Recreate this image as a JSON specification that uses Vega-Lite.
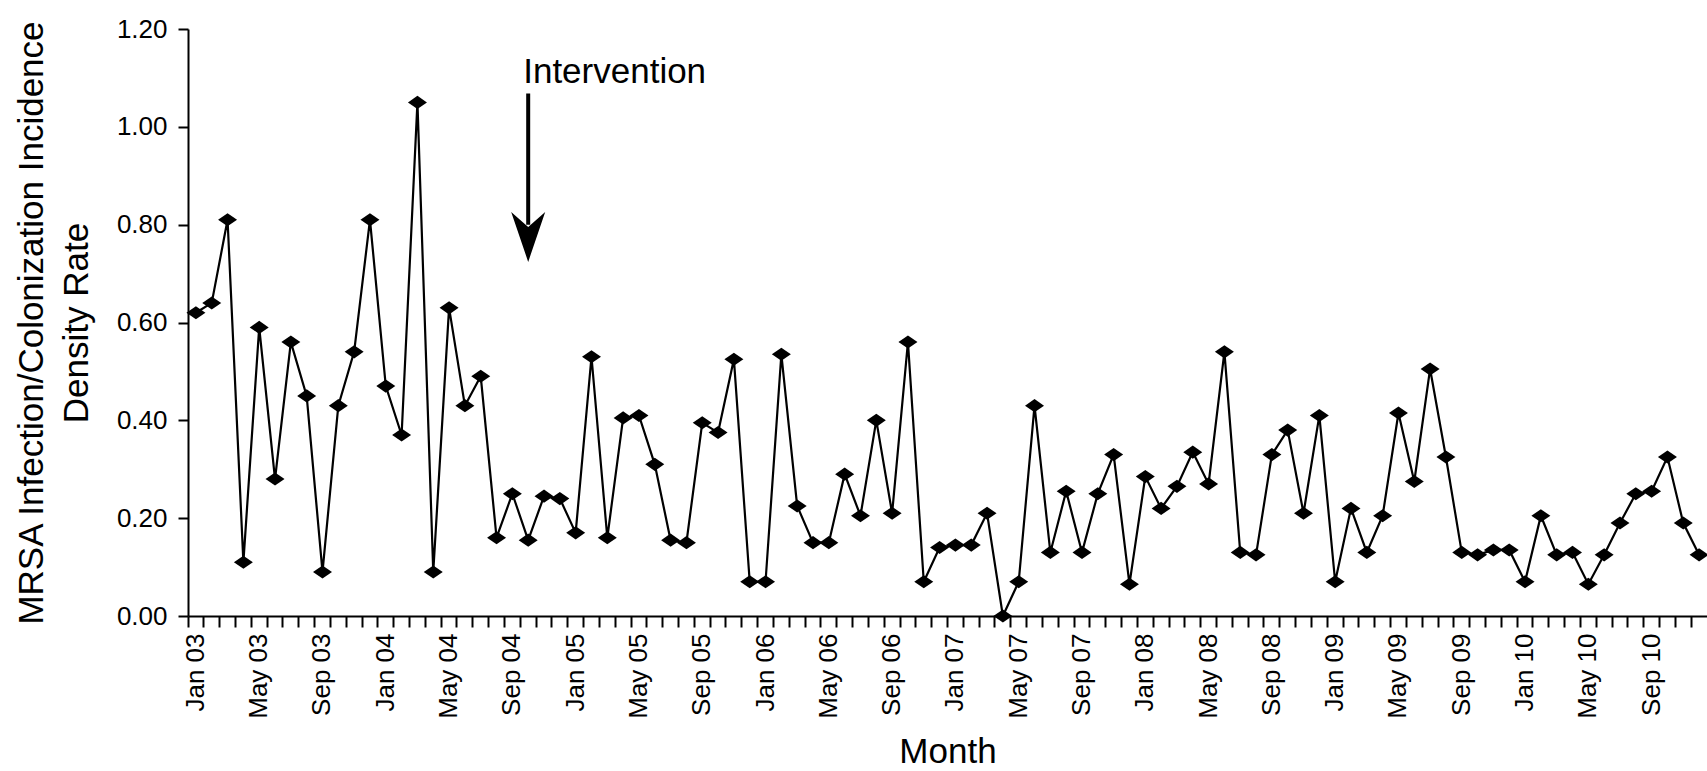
{
  "$schema": "https://vega.github.io/schema/vega-lite/v6.json",
  "autosize": {"type": "none"},
  "padding": {"left": 188, "top": 29, "right": 0, "bottom": 155},
  "width": 1519,
  "height": 587,
  "background": "white",
  "config": {
    "view": {"stroke": null},
    "font": "Liberation Sans",
    "axis": {
      "labelFont": "Liberation Sans",
      "titleFont": "Liberation Sans",
      "labelColor": "black",
      "titleColor": "black",
      "domainColor": "black",
      "tickColor": "black",
      "domainWidth": 2,
      "tickWidth": 2,
      "grid": false,
      "titleFontWeight": "normal"
    }
  },
  "datasets": {
    "rates": [
      {"month": "Jan 03", "rate": 0.62}, {"month": "Feb 03", "rate": 0.64}, {"month": "Mar 03", "rate": 0.81}, {"month": "Apr 03", "rate": 0.11},
      {"month": "May 03", "rate": 0.59}, {"month": "Jun 03", "rate": 0.28}, {"month": "Jul 03", "rate": 0.56}, {"month": "Aug 03", "rate": 0.45},
      {"month": "Sep 03", "rate": 0.09}, {"month": "Oct 03", "rate": 0.43}, {"month": "Nov 03", "rate": 0.54}, {"month": "Dec 03", "rate": 0.81},
      {"month": "Jan 04", "rate": 0.47}, {"month": "Feb 04", "rate": 0.37}, {"month": "Mar 04", "rate": 1.05}, {"month": "Apr 04", "rate": 0.09},
      {"month": "May 04", "rate": 0.63}, {"month": "Jun 04", "rate": 0.43}, {"month": "Jul 04", "rate": 0.49}, {"month": "Aug 04", "rate": 0.16},
      {"month": "Sep 04", "rate": 0.25}, {"month": "Oct 04", "rate": 0.155}, {"month": "Nov 04", "rate": 0.245}, {"month": "Dec 04", "rate": 0.24},
      {"month": "Jan 05", "rate": 0.17}, {"month": "Feb 05", "rate": 0.53}, {"month": "Mar 05", "rate": 0.16}, {"month": "Apr 05", "rate": 0.405},
      {"month": "May 05", "rate": 0.41}, {"month": "Jun 05", "rate": 0.31}, {"month": "Jul 05", "rate": 0.155}, {"month": "Aug 05", "rate": 0.15},
      {"month": "Sep 05", "rate": 0.395}, {"month": "Oct 05", "rate": 0.375}, {"month": "Nov 05", "rate": 0.525}, {"month": "Dec 05", "rate": 0.07},
      {"month": "Jan 06", "rate": 0.07}, {"month": "Feb 06", "rate": 0.535}, {"month": "Mar 06", "rate": 0.225}, {"month": "Apr 06", "rate": 0.15},
      {"month": "May 06", "rate": 0.15}, {"month": "Jun 06", "rate": 0.29}, {"month": "Jul 06", "rate": 0.205}, {"month": "Aug 06", "rate": 0.40},
      {"month": "Sep 06", "rate": 0.21}, {"month": "Oct 06", "rate": 0.56}, {"month": "Nov 06", "rate": 0.07}, {"month": "Dec 06", "rate": 0.14},
      {"month": "Jan 07", "rate": 0.145}, {"month": "Feb 07", "rate": 0.145}, {"month": "Mar 07", "rate": 0.21}, {"month": "Apr 07", "rate": 0.0},
      {"month": "May 07", "rate": 0.07}, {"month": "Jun 07", "rate": 0.43}, {"month": "Jul 07", "rate": 0.13}, {"month": "Aug 07", "rate": 0.255},
      {"month": "Sep 07", "rate": 0.13}, {"month": "Oct 07", "rate": 0.25}, {"month": "Nov 07", "rate": 0.33}, {"month": "Dec 07", "rate": 0.065},
      {"month": "Jan 08", "rate": 0.285}, {"month": "Feb 08", "rate": 0.22}, {"month": "Mar 08", "rate": 0.265}, {"month": "Apr 08", "rate": 0.335},
      {"month": "May 08", "rate": 0.27}, {"month": "Jun 08", "rate": 0.54}, {"month": "Jul 08", "rate": 0.13}, {"month": "Aug 08", "rate": 0.125},
      {"month": "Sep 08", "rate": 0.33}, {"month": "Oct 08", "rate": 0.38}, {"month": "Nov 08", "rate": 0.21}, {"month": "Dec 08", "rate": 0.41},
      {"month": "Jan 09", "rate": 0.07}, {"month": "Feb 09", "rate": 0.22}, {"month": "Mar 09", "rate": 0.13}, {"month": "Apr 09", "rate": 0.205},
      {"month": "May 09", "rate": 0.415}, {"month": "Jun 09", "rate": 0.275}, {"month": "Jul 09", "rate": 0.505}, {"month": "Aug 09", "rate": 0.325},
      {"month": "Sep 09", "rate": 0.13}, {"month": "Oct 09", "rate": 0.125}, {"month": "Nov 09", "rate": 0.135}, {"month": "Dec 09", "rate": 0.135},
      {"month": "Jan 10", "rate": 0.07}, {"month": "Feb 10", "rate": 0.205}, {"month": "Mar 10", "rate": 0.125}, {"month": "Apr 10", "rate": 0.13},
      {"month": "May 10", "rate": 0.065}, {"month": "Jun 10", "rate": 0.125}, {"month": "Jul 10", "rate": 0.19}, {"month": "Aug 10", "rate": 0.25},
      {"month": "Sep 10", "rate": 0.255}, {"month": "Oct 10", "rate": 0.325}, {"month": "Nov 10", "rate": 0.19}, {"month": "Dec 10", "rate": 0.125}
    ],
    "note": [
      {"month": "Oct 04", "label": "Intervention", "textY": 1.089, "shaftTop": 1.068, "shaftEnd": 0.80, "headY": 0.775}
    ]
  },
  "encoding": {
    "x": {
      "field": "month",
      "type": "ordinal",
      "sort": null,
      "scale": {
        "type": "band",
        "paddingInner": 0,
        "paddingOuter": 0,
        "domain": [
          "Jan 03","Feb 03","Mar 03","Apr 03","May 03","Jun 03","Jul 03","Aug 03","Sep 03","Oct 03","Nov 03","Dec 03",
          "Jan 04","Feb 04","Mar 04","Apr 04","May 04","Jun 04","Jul 04","Aug 04","Sep 04","Oct 04","Nov 04","Dec 04",
          "Jan 05","Feb 05","Mar 05","Apr 05","May 05","Jun 05","Jul 05","Aug 05","Sep 05","Oct 05","Nov 05","Dec 05",
          "Jan 06","Feb 06","Mar 06","Apr 06","May 06","Jun 06","Jul 06","Aug 06","Sep 06","Oct 06","Nov 06","Dec 06",
          "Jan 07","Feb 07","Mar 07","Apr 07","May 07","Jun 07","Jul 07","Aug 07","Sep 07","Oct 07","Nov 07","Dec 07",
          "Jan 08","Feb 08","Mar 08","Apr 08","May 08","Jun 08","Jul 08","Aug 08","Sep 08","Oct 08","Nov 08","Dec 08",
          "Jan 09","Feb 09","Mar 09","Apr 09","May 09","Jun 09","Jul 09","Aug 09","Sep 09","Oct 09","Nov 09","Dec 09",
          "Jan 10","Feb 10","Mar 10","Apr 10","May 10","Jun 10","Jul 10","Aug 10","Sep 10","Oct 10","Nov 10","Dec 10"
        ]
      },
      "axis": {
        "title": "Month",
        "titleFontSize": 35,
        "titlePadding": 16,
        "labelFontSize": 26,
        "labelAngle": -90,
        "labelPadding": 6,
        "tickSize": 11,
        "bandPosition": 0,
        "labelOverlap": false,
        "labelBound": false,
        "labelExpr": "indexof(['Jan','May','Sep'], slice(datum.value, 0, 3)) >= 0 ? datum.value : ''"
      }
    }
  },
  "layer": [
    {
      "data": {"name": "rates"},
      "mark": {"type": "line", "color": "black", "strokeWidth": 2.2},
      "encoding": {
        "y": {
          "field": "rate",
          "type": "quantitative",
          "scale": {"domain": [0, 1.2], "nice": false, "zero": true},
          "axis": {
            "title": ["MRSA Infection/Colonization Incidence", "Density Rate"],
            "titleFontSize": 35,
            "titleLineHeight": 45,
            "titlePadding": 22,
            "labelFontSize": 26,
            "labelPadding": 11,
            "tickSize": 10,
            "values": [0, 0.2, 0.4, 0.6, 0.8, 1.0, 1.2],
            "format": ".2f"
          }
        }
      }
    },
    {
      "data": {"name": "rates"},
      "mark": {"type": "point", "filled": true, "color": "black", "opacity": 1, "size": 361, "shape": "M-1,0 L0,-0.69 L1,0 L0,0.69 Z", "strokeWidth": 0},
      "encoding": {
        "y": {"field": "rate", "type": "quantitative"}
      }
    },
    {
      "data": {"name": "note"},
      "mark": {"type": "rule", "color": "black", "strokeWidth": 4},
      "encoding": {
        "y": {"field": "shaftTop", "type": "quantitative"},
        "y2": {"field": "shaftEnd"}
      }
    },
    {
      "data": {"name": "note"},
      "mark": {"type": "point", "filled": true, "color": "black", "opacity": 1, "size": 2500, "shape": "M0,1 L-0.68,-1 L0,-0.4 L0.68,-1 Z", "strokeWidth": 0},
      "encoding": {
        "y": {"field": "headY", "type": "quantitative"}
      }
    },
    {
      "data": {"name": "note"},
      "mark": {"type": "text", "align": "left", "baseline": "alphabetic", "dx": -5, "fontSize": 35, "font": "Liberation Sans", "color": "black"},
      "encoding": {
        "y": {"field": "textY", "type": "quantitative"},
        "text": {"field": "label"}
      }
    }
  ]
}
